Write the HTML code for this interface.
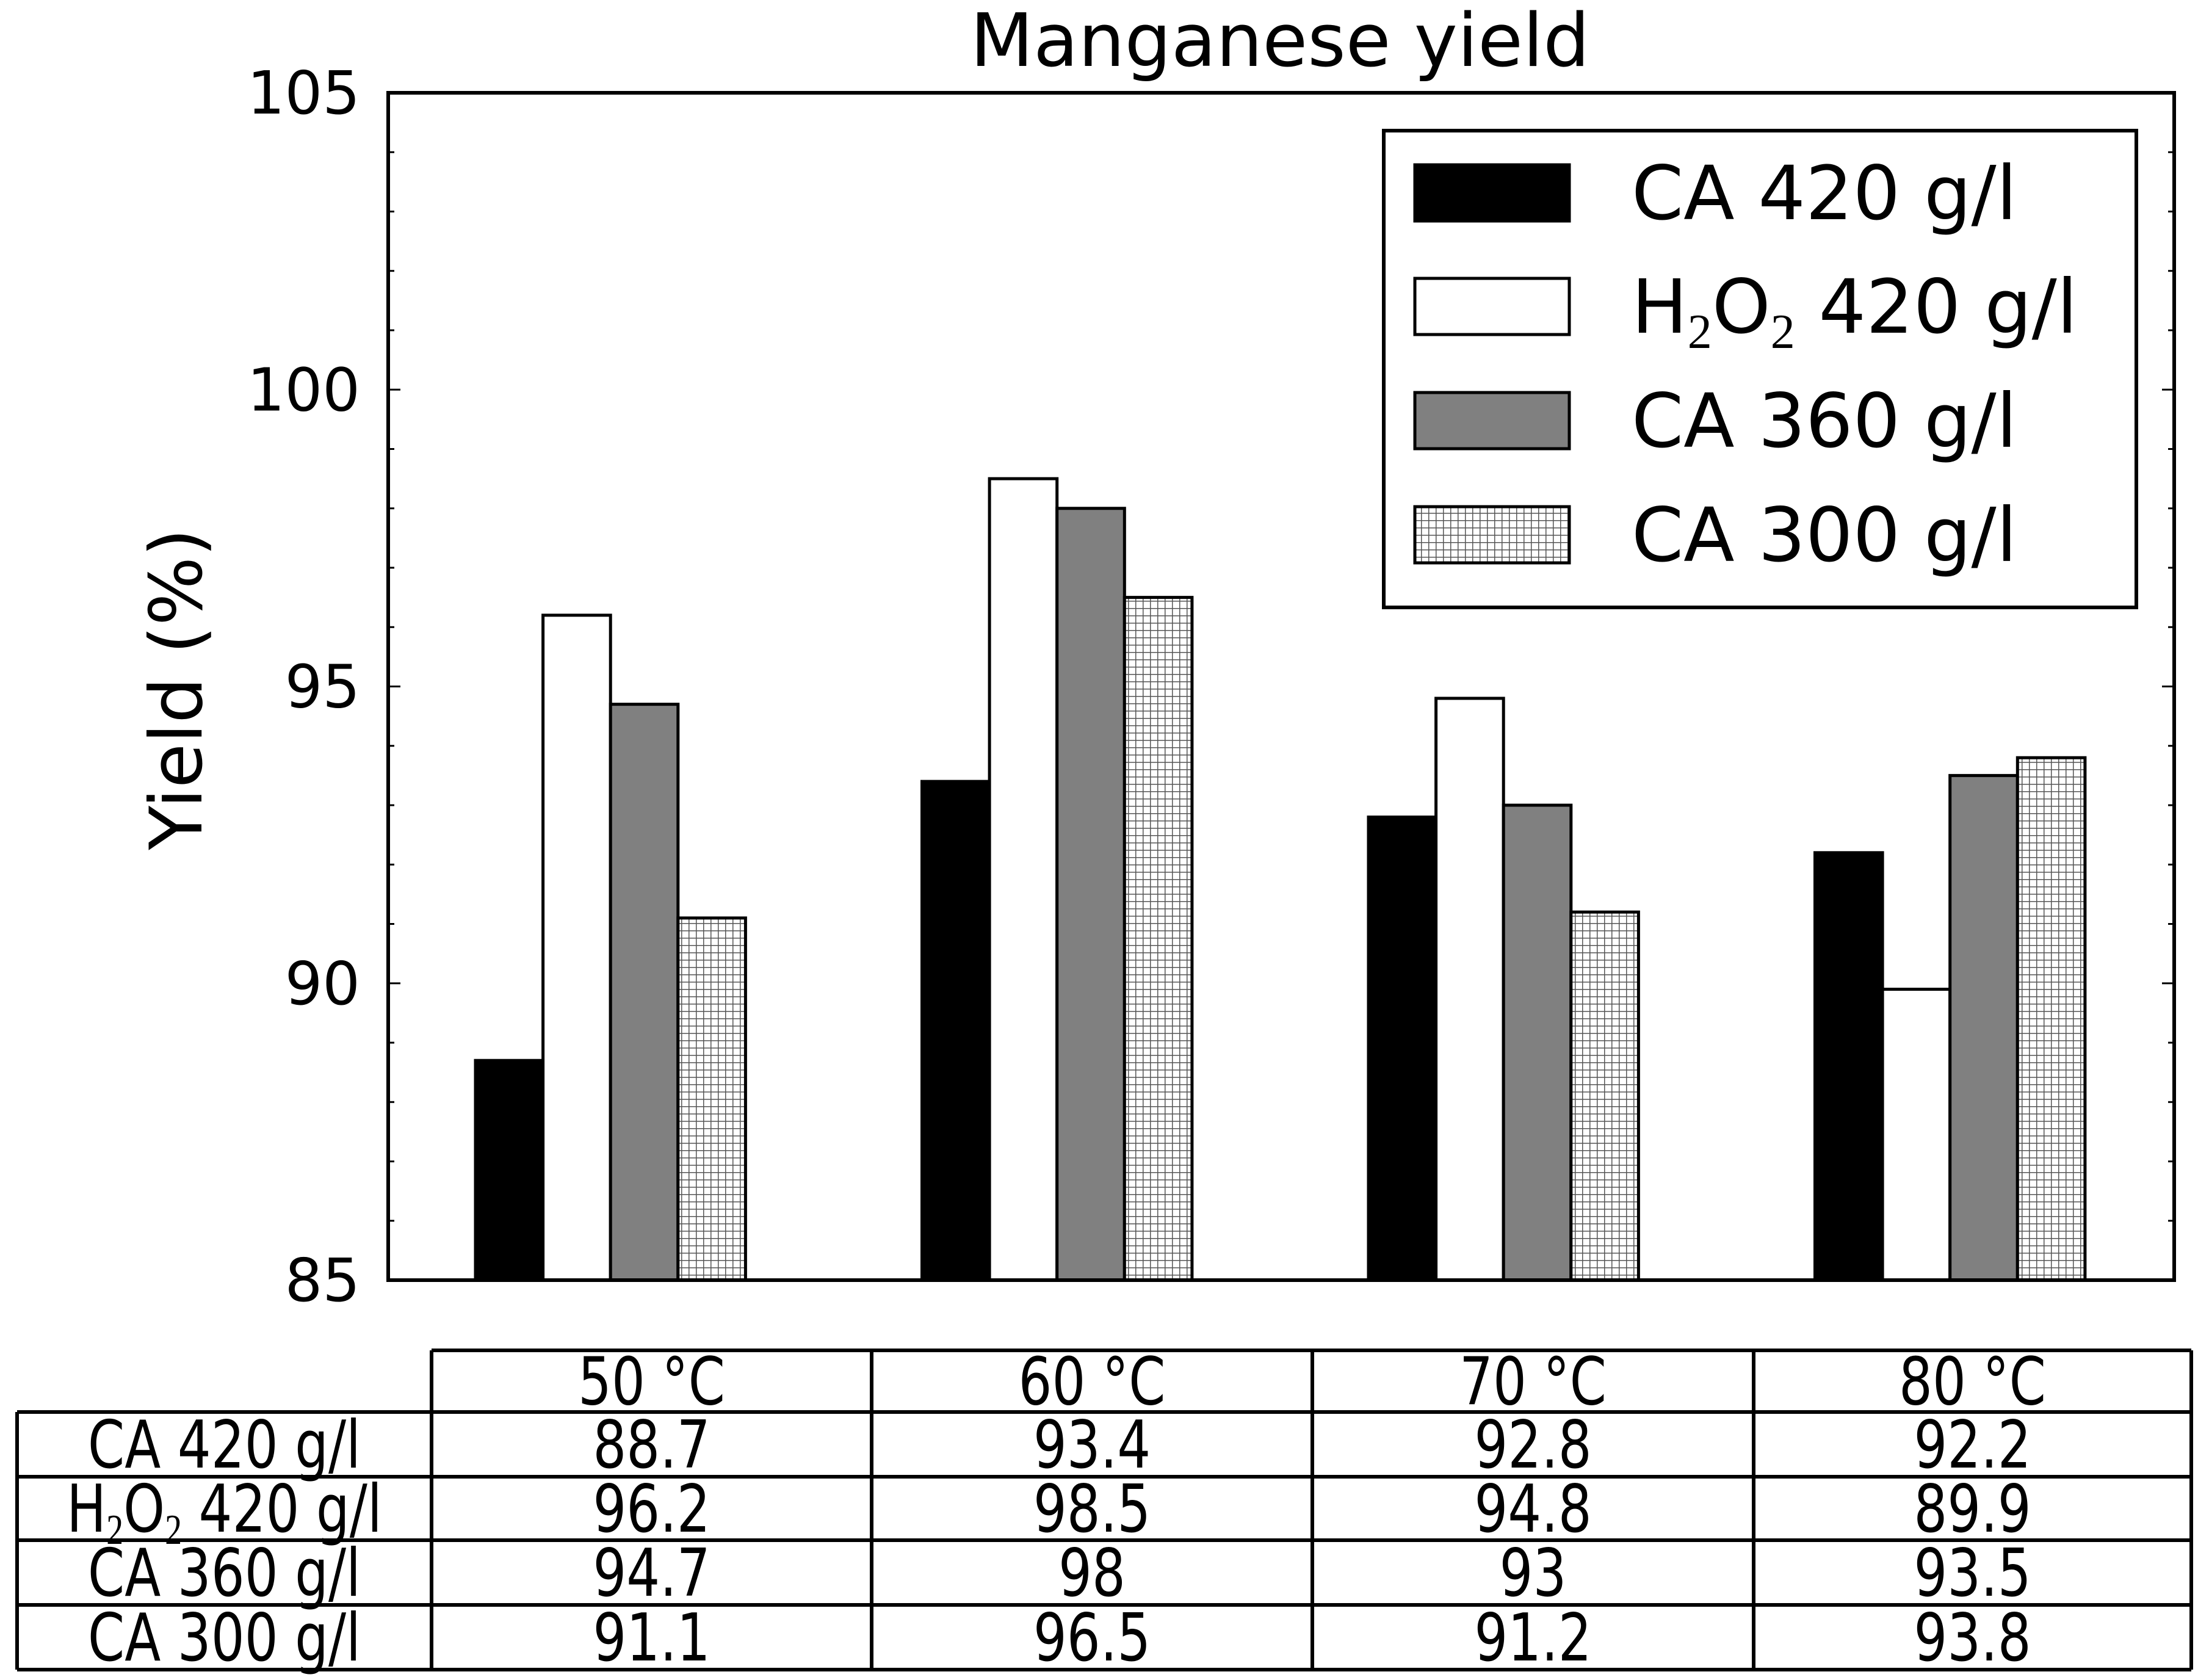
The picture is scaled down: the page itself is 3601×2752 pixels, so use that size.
<!DOCTYPE html>
<html><head><meta charset="utf-8"><style>html,body{margin:0;padding:0;background:#fff}svg{display:block}</style></head>
<body>
<svg id="chart" xmlns="http://www.w3.org/2000/svg" width="3601" height="2752" viewBox="0 0 3601 2752" font-family="'DejaVu Sans','Liberation Sans',sans-serif">
<defs>
<pattern id="hatch" patternUnits="userSpaceOnUse" width="12" height="12">
<rect width="12" height="12" fill="#fff"/>
<path d="M0 0.5H12M0.5 0V12" stroke="#555" stroke-width="2"/>
</pattern>
</defs>
<text x="2097" y="108" font-size="120" text-anchor="middle">Manganese yield</text>
<text transform="translate(330,1129) rotate(-90)" font-size="119" text-anchor="middle">Yield (%)</text>
<g id="plot"></g>
<g id="legend"></g>
<g id="table"></g>
</svg>
<script>
const categories = ['50 °C', '60 °C', '70 °C', '80 °C'];
const seriesNames = ['CA 420 g/l', 'H2O2 420 g/l', 'CA 360 g/l', 'CA 300 g/l'];
const ca420 = [88.7, 93.4, 92.8, 92.2];
const h2o2420 = [96.2, 98.5, 94.8, 89.9];
const ca360 = [94.7, 98, 93, 93.5];
const ca300 = [91.1, 96.5, 91.2, 93.8];
const tableText = [['88.7','93.4','92.8','92.2'],['96.2','98.5','94.8','89.9'],['94.7','98','93','93.5'],['91.1','96.5','91.2','93.8']];
const yTicks = [85, 90, 95, 100, 105];

const NS = 'http://www.w3.org/2000/svg';
const L = 636, R = 3562, T = 152, B = 2097;
const yMin = 85, yMax = 105;
const y = v => B - (v - yMin) / (yMax - yMin) * (B - T);
const groupW = (R - L) / categories.length;
const barW = 110.6;
const x = (gi, si) => L + gi * groupW + 143 + si * barW;
const fills = ['#000', '#fff', '#808080', 'url(#hatch)'];
const series = [ca420, h2o2420, ca360, ca300];

function mk(tag, attrs, parent) {
  const e = document.createElementNS(NS, tag);
  for (const k in attrs) e.setAttribute(k, attrs[k]);
  parent.appendChild(e);
  return e;
}
const plot = document.getElementById('plot');
series.forEach((vals, si) => {
  vals.forEach((v, gi) => {
    const r = mk('rect', {x: x(gi, si), y: y(v), width: barW, height: B - y(v), fill: fills[si], stroke: '#000', 'stroke-width': 5}, plot);
    
    
  });
});
// ticks
for (let v = yMin; v <= yMax; v++) {
  const len = v % 5 === 0 ? 20 : 10;
  const t1 = mk('line', {x1: L, x2: L + len, y1: y(v), y2: y(v), stroke: '#000', 'stroke-width': 3}, plot);
  
  
  const t2 = mk('line', {x1: R, x2: R - len, y1: y(v), y2: y(v), stroke: '#000', 'stroke-width': 3}, plot);
  
  
}
yTicks.forEach(v => {
  const t = mk('text', {x: 590, y: y(v) + 34, 'font-size': 97, 'text-anchor': 'end'}, plot);
  t.textContent = v;
  
  
});
const frame = mk('rect', {x: L, y: T, width: R - L, height: B - T, fill: 'none', stroke: '#000', 'stroke-width': 6}, plot);



// legend
const lg = document.getElementById('legend');
const lbox = mk('rect', {x: 2267, y: 214, width: 1233, height: 781, fill: '#fff', stroke: '#000', 'stroke-width': 6}, lg);


const lys = [316, 502, 689, 876];
seriesNames.forEach((n, i) => {
  const p = mk('rect', {x: 2318, y: lys[i] - 46, width: 253, height: 92, fill: fills[i], stroke: '#000', 'stroke-width': 5}, lg);
  
  
  const t = mk('text', {x: 2673, y: lys[i] + 43, 'font-size': 122}, lg);
  
  
  if (n.startsWith('H2O2')) {
    t.innerHTML = 'H<tspan font-size="80" font-family="Liberation Serif,serif" dy="25">2</tspan><tspan dy="-25">O</tspan><tspan font-size="80" font-family="Liberation Serif,serif" dy="25">2</tspan><tspan dy="-25"> 420 g/l</tspan>';
  } else t.textContent = n;
});

// table
const tb = document.getElementById('table');
const cols = [28, 707, 1428, 2150, 2873, 3590];
const rows = [2212, 2313, 2419, 2523, 2629, 2735];
const SX = 0.8;
function ttext(cx, cy, content, html) {
  const t = mk('text', {x: cx / SX, y: cy + 38, 'font-size': 108, 'text-anchor': 'middle', transform: 'scale(' + SX + ',1)'}, tb);
  
  
  if (html) t.innerHTML = content; else t.textContent = content;
}
function ln(x1, y1, x2, y2) {
  const l = mk('line', {x1, y1, x2, y2, stroke: '#000', 'stroke-width': 6}, tb);
  
  
}
ln(cols[1], rows[0], cols[5], rows[0]);
for (let r = 1; r < rows.length; r++) ln(cols[0], rows[r], cols[5], rows[r]);
ln(cols[0], rows[1], cols[0], rows[5]);
for (let c = 1; c < cols.length; c++) ln(cols[c], rows[0], cols[c], rows[5]);
categories.forEach((c, i) => ttext((cols[i + 1] + cols[i + 2]) / 2, (rows[0] + rows[1]) / 2, c));
seriesNames.forEach((n, r) => {
  const cy = (rows[r + 1] + rows[r + 2]) / 2;
  if (n.startsWith('H2O2')) ttext((cols[0] + cols[1]) / 2, cy, 'H<tspan font-size="70" font-family="Liberation Serif,serif" dy="20">2</tspan><tspan dy="-20">O</tspan><tspan font-size="70" font-family="Liberation Serif,serif" dy="20">2</tspan><tspan dy="-20"> 420 g/l</tspan>', true);
  else ttext((cols[0] + cols[1]) / 2, cy, n);
  tableText[r].forEach((v, c) => ttext((cols[c + 1] + cols[c + 2]) / 2, cy, v));
});
</script>
</body></html>
